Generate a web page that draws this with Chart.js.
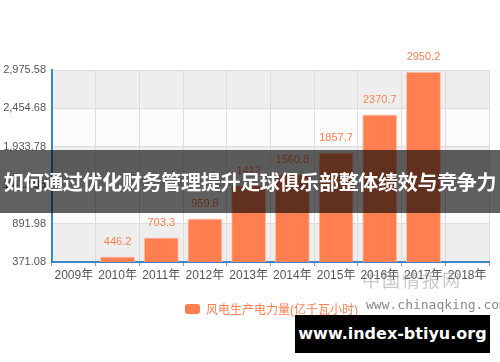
<!DOCTYPE html>
<html>
<head>
<meta charset="utf-8">
<script src="https://cdn.jsdelivr.net/npm/chart.js@4.4.1/dist/chart.umd.min.js"></script>
<style>
  html, body { margin:0; padding:0; background:#fff; }
  #wrap { position:relative; width:500px; height:362px; overflow:hidden; font-family:"Noto Sans CJK SC", "Noto Sans", sans-serif; }
  #c { position:absolute; left:0; top:0; }
  .legend { position:absolute; left:185px; top:300px; font-size:12px; color:#ff7f50; display:flex; align-items:center; font-family:"Liberation Sans", "Noto Sans CJK SC", sans-serif; }
  .legend i { display:inline-block; width:15px; height:10px; background:#ff7f50; border-radius:3px; margin-right:6px; }
  .wm1 { position:absolute; left:362px; top:266px; font-size:18px; color:rgba(120,120,120,0.4); letter-spacing:2px; font-family:"Noto Sans CJK SC"; }
  .wm2 { position:absolute; left:366px; top:297px; font-size:13px; color:#888; font-family:"DejaVu Sans Mono", monospace; }
  .banner { position:absolute; left:0; top:150px; width:500px; height:63px; background:rgba(0,0,0,0.62); color:#fff; font-size:20px; font-weight:bold; line-height:63px; text-align:center; white-space:nowrap; letter-spacing:-0.3px; }
  .site { position:absolute; left:295px; top:315px; width:195px; height:38px; background:#000; color:#fff; font-family:"DejaVu Sans", sans-serif; font-weight:bold; font-size:16px; line-height:38px; text-align:center; }
</style>
</head>
<body>
<div id="wrap">
  <canvas id="c" width="500" height="362"></canvas>
  <div class="legend"><i></i>风电生产电力量(亿千瓦小时)</div>
  <div class="wm1">中国情报网</div>
  <div class="wm2">www.chinaqking.com</div>
  <div class="banner">如何通过优化财务管理提升足球俱乐部整体绩效与竞争力</div>
  <div class="site">www.index-btiyu.org</div>
</div>
<script>
const anos = ["2009年","2010年","2011年","2012年","2013年","2014年","2015年","2016年","2017年","2018年"];
const energia = [null, 446.2, 703.3, 959.8, 1412, 1560.8, 1857.7, 2370.7, 2950.2, null];
const yTicks = [371.08, 891.98, 1412.88, 1933.78, 2454.68, 2975.58];
const corBarra = "#ff7f50";
const corEixo = "#3d85c6";

const fmt = (v) => v.toLocaleString("en-US", { minimumFractionDigits:2, maximumFractionDigits:2 });

const faixas = {
  id:"faixas",
  beforeDraw(chart){
    const { ctx, chartArea:a, scales:{ y } } = chart;
    ctx.save();
    for(let i = 0; i < yTicks.length - 1; i++){
      const y1 = y.getPixelForValue(yTicks[i + 1]);
      const y2 = y.getPixelForValue(yTicks[i]);
      ctx.fillStyle = ((yTicks.length - 2 - i) % 2 === 0) ? "#eeeeee" : "#fbfbfb";
      ctx.fillRect(a.left, y1, a.right - a.left, y2 - y1);
    }
    ctx.restore();
  }
};

const rotulos = {
  id:"rotulos",
  afterDatasetsDraw(chart){
    const { ctx } = chart;
    const meta = chart.getDatasetMeta(0);
    ctx.save();
    ctx.fillStyle = corBarra;
    ctx.font = "11px 'Liberation Sans', sans-serif";
    ctx.textAlign = "center";
    ctx.textBaseline = "bottom";
    meta.data.forEach((bar, i) => {
      if(energia[i] === null){ return; }
      ctx.fillText(String(energia[i]), bar.x, bar.y - 9);
    });
    ctx.restore();
  }
};

new Chart(document.getElementById("c"), {
  type:"bar",
  data:{ labels: anos, datasets:[{ data: energia, backgroundColor: corBarra, borderColor:"#ffc4ae", borderWidth:1, barPercentage:0.8, categoryPercentage:1 }] },
  options:{
    responsive:false, animation:false,
    layout:{ padding:{ top:70, right:11, left:0, bottom:0 } },
    plugins:{ legend:{ display:false }, tooltip:{ enabled:false } },
    scales:{
      x:{
        grid:{ color:"#dddddd", offset:true, tickLength:4, tickColor:"#999" },
        border:{ color: corEixo, width:2 },
        ticks:{ color:"#555", font:{ size:12, family:"'Liberation Sans', 'Noto Sans CJK SC', sans-serif" }, padding:2, maxRotation:0, autoSkip:false },
        afterFit(s){ s.height = 100; }
      },
      y:{
        min: yTicks[0], max: yTicks[yTicks.length - 1],
        afterBuildTicks(s){ s.ticks = yTicks.map(v => ({ value:v })); },
        grid:{ color:"#dddddd", drawTicks:false },
        border:{ color: corEixo, width:2 },
        ticks:{ color:"#555", font:{ size:11, family:"'Liberation Sans', sans-serif" }, padding:6, callback:(v) => fmt(v) },
        afterFit(s){ s.width = 52; }
      }
    }
  },
  plugins:[faixas, rotulos]
});
</script>
</body>
</html>
